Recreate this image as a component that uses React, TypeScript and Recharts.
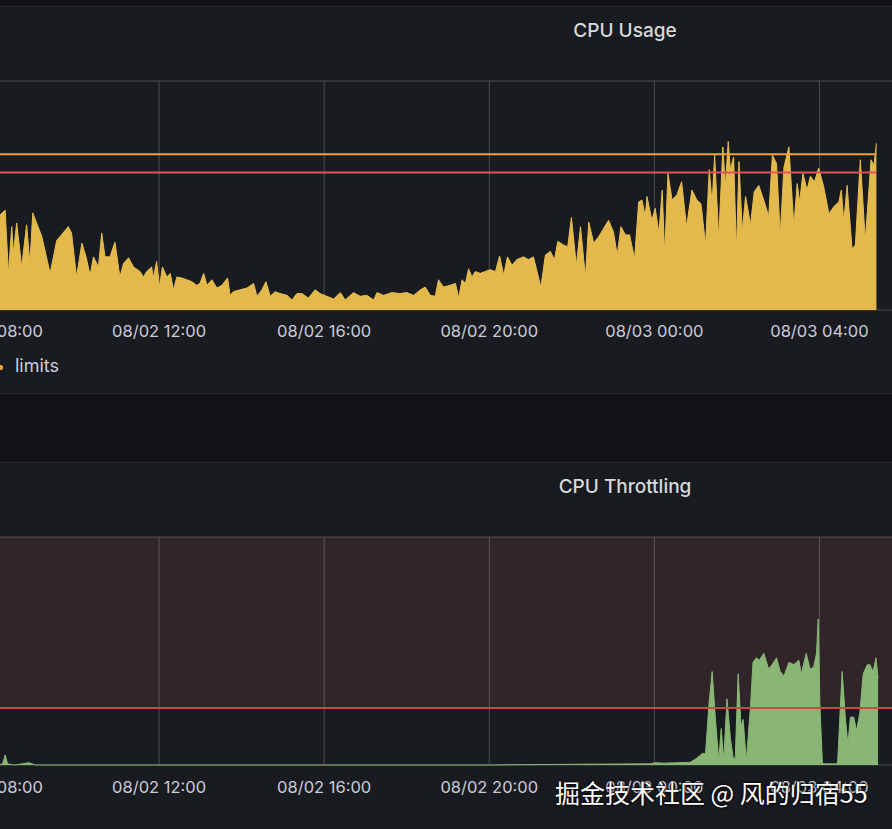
import React from "react";
import {
  ComposedChart,
  Area,
  Line,
  XAxis,
  YAxis,
  CartesianGrid,
  ReferenceArea,
  ReferenceLine,
} from "recharts";

// hours since 08/02 00:00
const usageTime = [
  8.0, 8.15, 8.27, 8.35, 8.43, 8.47, 8.55, 8.67, 8.79, 8.87, 8.94, 9.16, 9.36, 9.52, 9.8, 9.88,
  10.0, 10.13, 10.23, 10.33, 10.41, 10.53, 10.61, 10.69, 10.81, 10.93, 11.05, 11.14, 11.26, 11.38,
  11.54, 11.62, 11.7, 11.82, 11.86, 11.94, 12.01, 12.08, 12.19, 12.27, 12.35, 12.43, 12.55, 12.67,
  12.79, 12.91, 12.99, 13.08, 13.16, 13.28, 13.4, 13.52, 13.66, 13.72, 13.8, 13.96, 14.13, 14.29,
  14.37, 14.49, 14.59, 14.69, 14.81, 14.93, 15.1, 15.22, 15.34, 15.46, 15.62, 15.78, 15.9, 16.06,
  16.23, 16.39, 16.51, 16.71, 16.87, 17.03, 17.2, 17.28, 17.44, 17.64, 17.84, 18.0, 18.17, 18.33,
  18.45, 18.57, 18.69, 18.77, 18.89, 19.05, 19.18, 19.26, 19.34, 19.42, 19.5, 19.58, 19.66, 19.78,
  19.9, 20.02, 20.15, 20.25, 20.35, 20.44, 20.55, 20.67, 20.83, 20.95, 21.07, 21.25, 21.36, 21.48,
  21.58, 21.66, 21.8, 21.9, 21.99, 22.11, 22.21, 22.33, 22.41, 22.53, 22.65, 22.77, 22.89, 23.01,
  23.1, 23.19, 23.3, 23.4, 23.52, 23.62, 23.7, 23.78, 23.82, 23.94, 24.02, 24.11, 24.19, 24.25,
  24.33, 24.43, 24.55, 24.66, 24.78, 24.91, 25.03, 25.13, 25.24, 25.33, 25.4, 25.46, 25.56, 25.66,
  25.72, 25.79, 25.84, 25.92, 25.99, 26.05, 26.13, 26.21, 26.33, 26.42, 26.53, 26.65, 26.77, 26.86,
  26.96, 27.05, 27.14, 27.26, 27.38, 27.46, 27.52, 27.6, 27.7, 27.78, 27.88, 27.98, 28.1, 28.23,
  28.35, 28.47, 28.53, 28.59, 28.67, 28.79, 28.87, 28.99, 29.11, 29.25, 29.32, 29.38,
];
const usageValue = [
  1.0, 1.04, 1.09, 0.4, 0.91, 0.62, 0.95, 0.47, 0.93, 0.51, 1.06, 0.8, 0.4, 0.76, 0.91, 0.84,
  0.36, 0.73, 0.58, 0.38, 0.58, 0.47, 0.84, 0.58, 0.58, 0.74, 0.36, 0.51, 0.57, 0.47,
  0.42, 0.36, 0.42, 0.47, 0.35, 0.53, 0.25, 0.47, 0.36, 0.4, 0.22, 0.36, 0.35, 0.33,
  0.31, 0.27, 0.29, 0.4, 0.27, 0.33, 0.24, 0.27, 0.35, 0.16, 0.2, 0.22, 0.24, 0.29,
  0.15, 0.22, 0.31, 0.15, 0.2, 0.18, 0.16, 0.11, 0.18, 0.18, 0.13, 0.22, 0.18, 0.15,
  0.12, 0.19, 0.11, 0.19, 0.15, 0.16, 0.11, 0.19, 0.16, 0.19, 0.18, 0.19, 0.16, 0.22,
  0.25, 0.16, 0.15, 0.33, 0.25, 0.27, 0.29, 0.13, 0.33, 0.29, 0.45, 0.36, 0.42, 0.4,
  0.42, 0.44, 0.42, 0.59, 0.38, 0.58, 0.49, 0.55, 0.58, 0.55, 0.58, 0.25, 0.6, 0.64,
  0.55, 0.75, 0.71, 0.69, 1.01, 0.49, 0.91, 0.36, 0.96, 0.73, 0.8, 0.89, 0.98, 0.85,
  0.6, 0.91, 0.82, 0.82, 0.56, 1.18, 1.2, 1.02, 1.24, 0.98, 1.11, 0.84, 1.31, 0.6,
  1.49, 1.2, 1.26, 1.4, 0.91, 1.31, 1.2, 1.16, 0.71, 1.53, 1.16, 1.69, 0.78, 1.78,
  1.35, 1.84, 1.53, 1.67, 0.64, 1.62, 0.86, 1.24, 0.93, 1.29, 1.36, 1.2, 1.02, 1.69,
  1.6, 0.82, 1.56, 1.78, 0.91, 1.38, 1.18, 1.49, 1.31, 1.46, 1.4, 1.55, 1.35, 1.05,
  1.13, 1.18, 1.31, 0.96, 1.36, 0.67, 0.71, 1.64, 0.76, 1.64, 1.58, 1.82,
];
const REQUESTS = 1.5;
const LIMITS = 1.7;

const throttleTime = [
  8.0, 8.15, 8.22, 8.27, 8.33, 8.5, 8.85, 9.0, 12.0, 16.0, 20.0, 21.96, 23.9, 24.02, 24.23, 24.87,
  25.03, 25.16, 25.24, 25.32, 25.4, 25.48, 25.56, 25.62, 25.68, 25.76, 25.84, 25.91, 25.96, 26.03,
  26.1, 26.15, 26.23, 26.33, 26.39, 26.47, 26.55, 26.65, 26.77, 26.85, 26.96, 27.05, 27.14, 27.26,
  27.38, 27.5, 27.56, 27.68, 27.77, 27.86, 27.93, 27.97, 28.01, 28.07, 28.11, 28.39, 28.44, 28.55,
  28.63, 28.69, 28.75, 28.83, 28.9, 28.98, 29.06, 29.16, 29.22, 29.3, 29.37, 29.42,
];
const throttleValue = [
  0, 0, 0.01, 0.044, 0.005, 0, 0.01, 0, 0, 0, 0, 0.003, 0.005, 0.01, 0.008, 0.012,
  0.03, 0.05, 0.05, 0.26, 0.41, 0.2, 0.02, 0.16, 0.02, 0.29, 0.12, 0.03, 0.03, 0.4,
  0.17, 0.2, 0.02, 0.26, 0.45, 0.47, 0.46, 0.49, 0.42, 0.44, 0.47, 0.41, 0.39, 0.45,
  0.44, 0.46, 0.4, 0.49, 0.42, 0.43, 0.49, 0.64, 0.27, 0.01, 0.005, 0.005, 0.01, 0.41,
  0.2, 0.09, 0.21, 0.21, 0.15, 0.23, 0.4, 0.44, 0.44, 0.41, 0.47, 0.38,
];
const THROTTLE_THRESHOLD = 0.25;

const timeTicks = [8, 12, 16, 20, 24, 28];
const usageTicks = [0, 0.5, 1, 1.5, 2, 2.5];
const throttleTicks = [0, 0.25, 0.5, 0.75, 1];

const usageData = usageTime.map((t, i) => ({
  t,
  usage: usageValue[i],
  requests: REQUESTS,
  limits: LIMITS,
}));
const throttleData = throttleTime.map((t, i) => ({ t, throttled: throttleValue[i] }));

function fmtTime(h: number) {
  const day = h >= 24 ? "08/03" : "08/02";
  const hh = String(Math.floor(h % 24)).padStart(2, "0");
  return `${day} ${hh}:00`;
}

const FONT = "Inter, 'Noto Sans', sans-serif";
const GRID = "#4a4c52";
const tickStyle = { fill: "#ccccdc", fontSize: 16.5, fontFamily: FONT };

const titleStyle: React.CSSProperties = {
  position: "absolute",
  left: 525,
  width: 200,
  textAlign: "center",
  color: "#d8d9da",
  fontSize: 19,
  fontWeight: 500,
  lineHeight: "24px",
};

export default function App() {
  return (
    <div
      style={{
        position: "fixed",
        top: 0,
        left: 0,
        width: 892,
        height: 829,
        overflow: "hidden",
        background: "#111217",
        fontFamily: FONT,
      }}
    >
      {/* CPU Usage panel */}
      <div
        style={{
          position: "absolute",
          top: 6,
          left: -10,
          width: 912,
          height: 386,
          background: "#181b1f",
          borderTop: "1px solid #25272c",
          borderBottom: "1px solid #25272c",
        }}
      />
      <div style={{ ...titleStyle, top: 19 }}>CPU Usage</div>
      <div style={{ position: "absolute", top: 79, left: -6 }}>
        <ComposedChart
          width={908}
          height={261}
          data={usageData}
          margin={{ top: 2, right: 0, bottom: 0, left: 0 }}
        >
          <CartesianGrid stroke={GRID} />
          <XAxis
            dataKey="t"
            type="number"
            domain={[8, 30]}
            ticks={timeTicks}
            interval={0}
            tickFormatter={fmtTime}
            tick={tickStyle}
            axisLine={false}
            tickLine={false}
            tickMargin={9}
            height={30}
          />
          <YAxis
            type="number"
            domain={[0, 2.5]}
            ticks={usageTicks}
            width={0}
            tick={false}
            axisLine={false}
            tickLine={false}
          />
          <Area
            type="linear"
            dataKey="usage"
            stroke="#e5bc4e"
            strokeWidth={1}
            fill="#e3b94b"
            fillOpacity={1}
            dot={false}
            activeDot={false}
            isAnimationActive={false}
          />
          <Line
            type="linear"
            dataKey="requests"
            stroke="#e0525e"
            strokeWidth={2}
            dot={false}
            activeDot={false}
            isAnimationActive={false}
          />
          <Line
            type="linear"
            dataKey="limits"
            stroke="#f0a23f"
            strokeWidth={2}
            dot={false}
            activeDot={false}
            isAnimationActive={false}
          />
        </ComposedChart>
      </div>
      <div
        style={{
          position: "absolute",
          top: 365,
          left: -10,
          width: 13,
          height: 5,
          borderRadius: 2,
          background: "#f0a23f",
        }}
      />
      <div
        style={{
          position: "absolute",
          top: 354,
          left: 15,
          color: "#ccccdc",
          fontSize: 18,
          lineHeight: "24px",
        }}
      >
        limits
      </div>

      {/* CPU Throttling panel */}
      <div
        style={{
          position: "absolute",
          top: 462,
          left: -10,
          width: 912,
          height: 400,
          background: "#181b1f",
          borderTop: "1px solid #25272c",
        }}
      />
      <div style={{ ...titleStyle, top: 475 }}>CPU Throttling</div>
      <div style={{ position: "absolute", top: 535, left: -6 }}>
        <ComposedChart
          width={908}
          height={260}
          data={throttleData}
          margin={{ top: 2, right: 0, bottom: 0, left: 0 }}
        >
          <ReferenceArea
            y1={THROTTLE_THRESHOLD}
            y2={1}
            fill="rgba(234, 112, 112, 0.12)"
            fillOpacity={1}
            stroke="none"
          />
          <CartesianGrid stroke={GRID} />
          <ReferenceLine y={THROTTLE_THRESHOLD} stroke="#c24f3d" strokeWidth={2} />
          <XAxis
            dataKey="t"
            type="number"
            domain={[8, 30]}
            ticks={timeTicks}
            interval={0}
            tickFormatter={fmtTime}
            tick={tickStyle}
            axisLine={false}
            tickLine={false}
            tickMargin={10}
            height={30}
          />
          <YAxis
            type="number"
            domain={[0, 1]}
            ticks={throttleTicks}
            width={0}
            tick={false}
            axisLine={false}
            tickLine={false}
          />
          <Area
            type="linear"
            dataKey="throttled"
            stroke="#8ab776"
            strokeWidth={1}
            fill="#89b674"
            fillOpacity={1}
            dot={false}
            activeDot={false}
            isAnimationActive={false}
          />
        </ComposedChart>
      </div>

      <div
        style={{
          position: "absolute",
          top: 775,
          left: 555,
          color: "#ffffff",
          fontSize: 25,
          lineHeight: "34px",
          fontFamily: "'Noto Sans CJK SC', 'Noto Sans', sans-serif",
          textShadow: "0 0 2px #000, 0 0 3px #000",
          whiteSpace: "nowrap",
        }}
      >
        掘金技术社区 @ 风的归宿55
      </div>
    </div>
  );
}
